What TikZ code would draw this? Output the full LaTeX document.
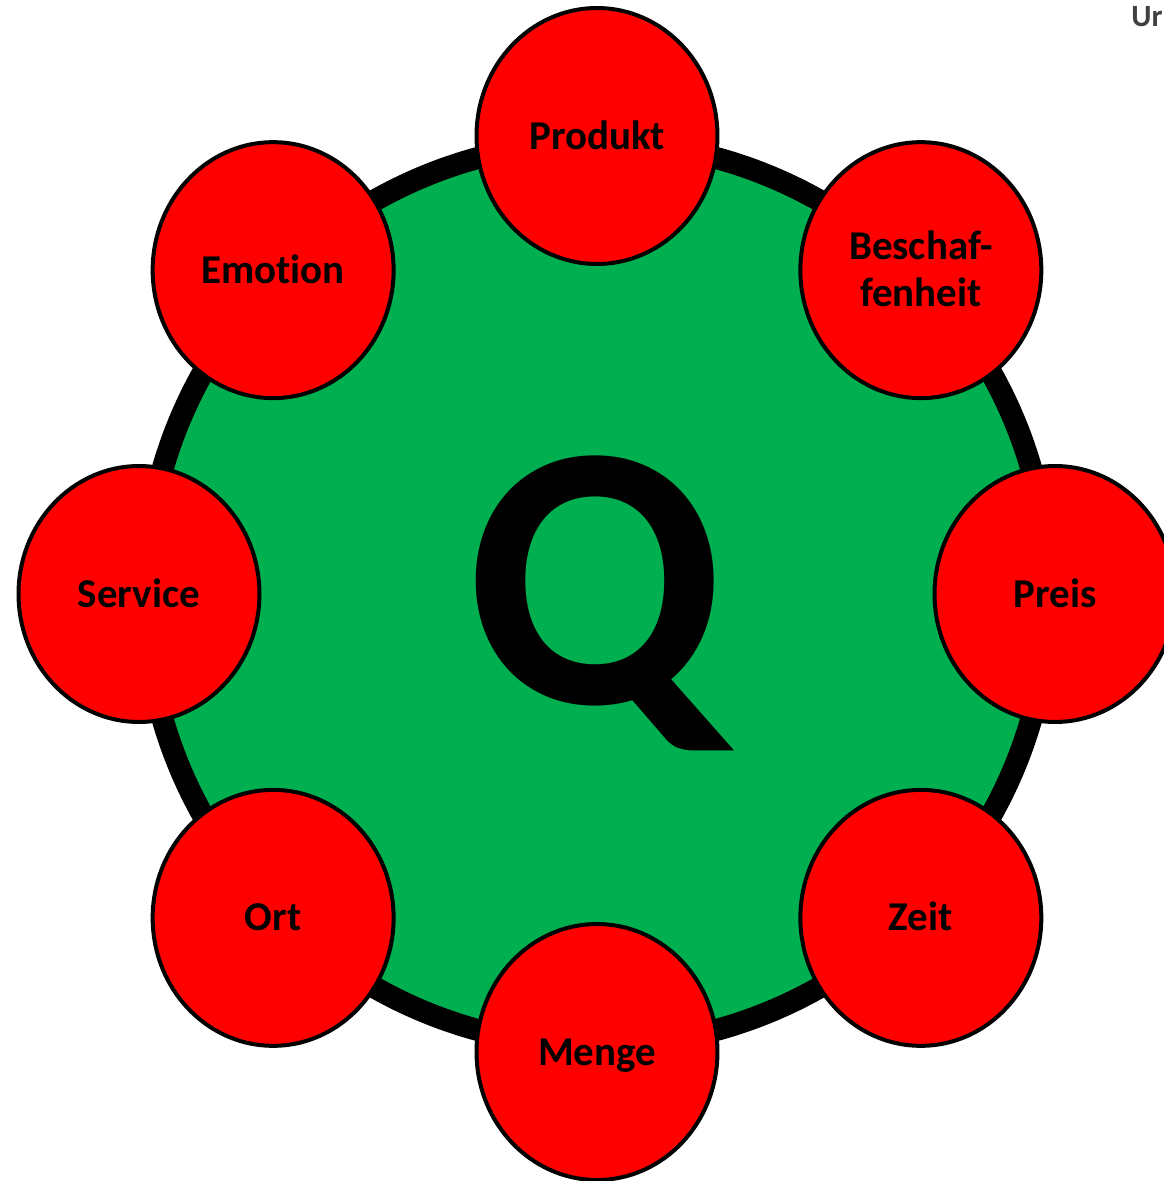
\documentclass[tikz,border=0pt]{standalone}
\usepackage{fontspec}
\setmainfont{Carlito}[Ligatures=NoCommon]
\usepackage{tikz}
\usepackage{xcolor}
\usetikzlibrary{shapes.geometric}
\definecolor{qGreen}{RGB}{0,176,80}
\definecolor{qRed}{RGB}{255,0,0}
\definecolor{noteGray}{RGB}{64,64,64}
\tikzset{
    corecircle/.style={
        circle,
        draw=black,
        line width=0.44cm,
        fill=qGreen,
        minimum size=18.08cm,
        inner sep=0pt
    },
    factorbox/.style={
        ellipse,
        draw=black,
        line width=0.08cm,
        fill=qRed,
        minimum width=4.82cm,
        minimum height=5.12cm,
        inner sep=0pt,
        align=center,
        text height=17.5pt,
        text depth=2.6pt,
        font=\fontsize{23.3}{26.7}\selectfont\bfseries
    },
    qletter/.style={inner sep=0pt, font=\fontsize{215}{215}\selectfont\bfseries},
    cornernote/.style={inner sep=0pt, text=noteGray, font=\fontsize{17.6}{20}\selectfont\bfseries}
}

\begin{document}
\begin{tikzpicture}[x=0.02cm, y=0.02cm]
        \useasboundingbox (-597,-587) rectangle (567,594);
        \clip (-597,-587) rectangle (567,594);

        \node[corecircle] (core) at (0,0) {};
        \node[qletter, anchor=base] (q) at (-2,-109) {Q};

        \node[factorbox] (produkt) at (90:458) {Produkt};
        \node[factorbox, text height=44.2pt] (beschaffenheit) at (45:458) {Beschaf-\\fenheit};
        \node[factorbox] (preis) at (0:458) {Preis};
        \node[factorbox] (zeit) at (-45:458) {Zeit};
        \node[factorbox] (menge) at (-90:458) {Menge};
        \node[factorbox] (ort) at (-135:458) {Ort};
        \node[factorbox] (service) at (180:458) {Service};
        \node[factorbox] (emotion) at (135:458) {Emotion};

        \node[cornernote, anchor=base west] (note) at (534,567) {Ur};
    \end{tikzpicture}
\end{document}
